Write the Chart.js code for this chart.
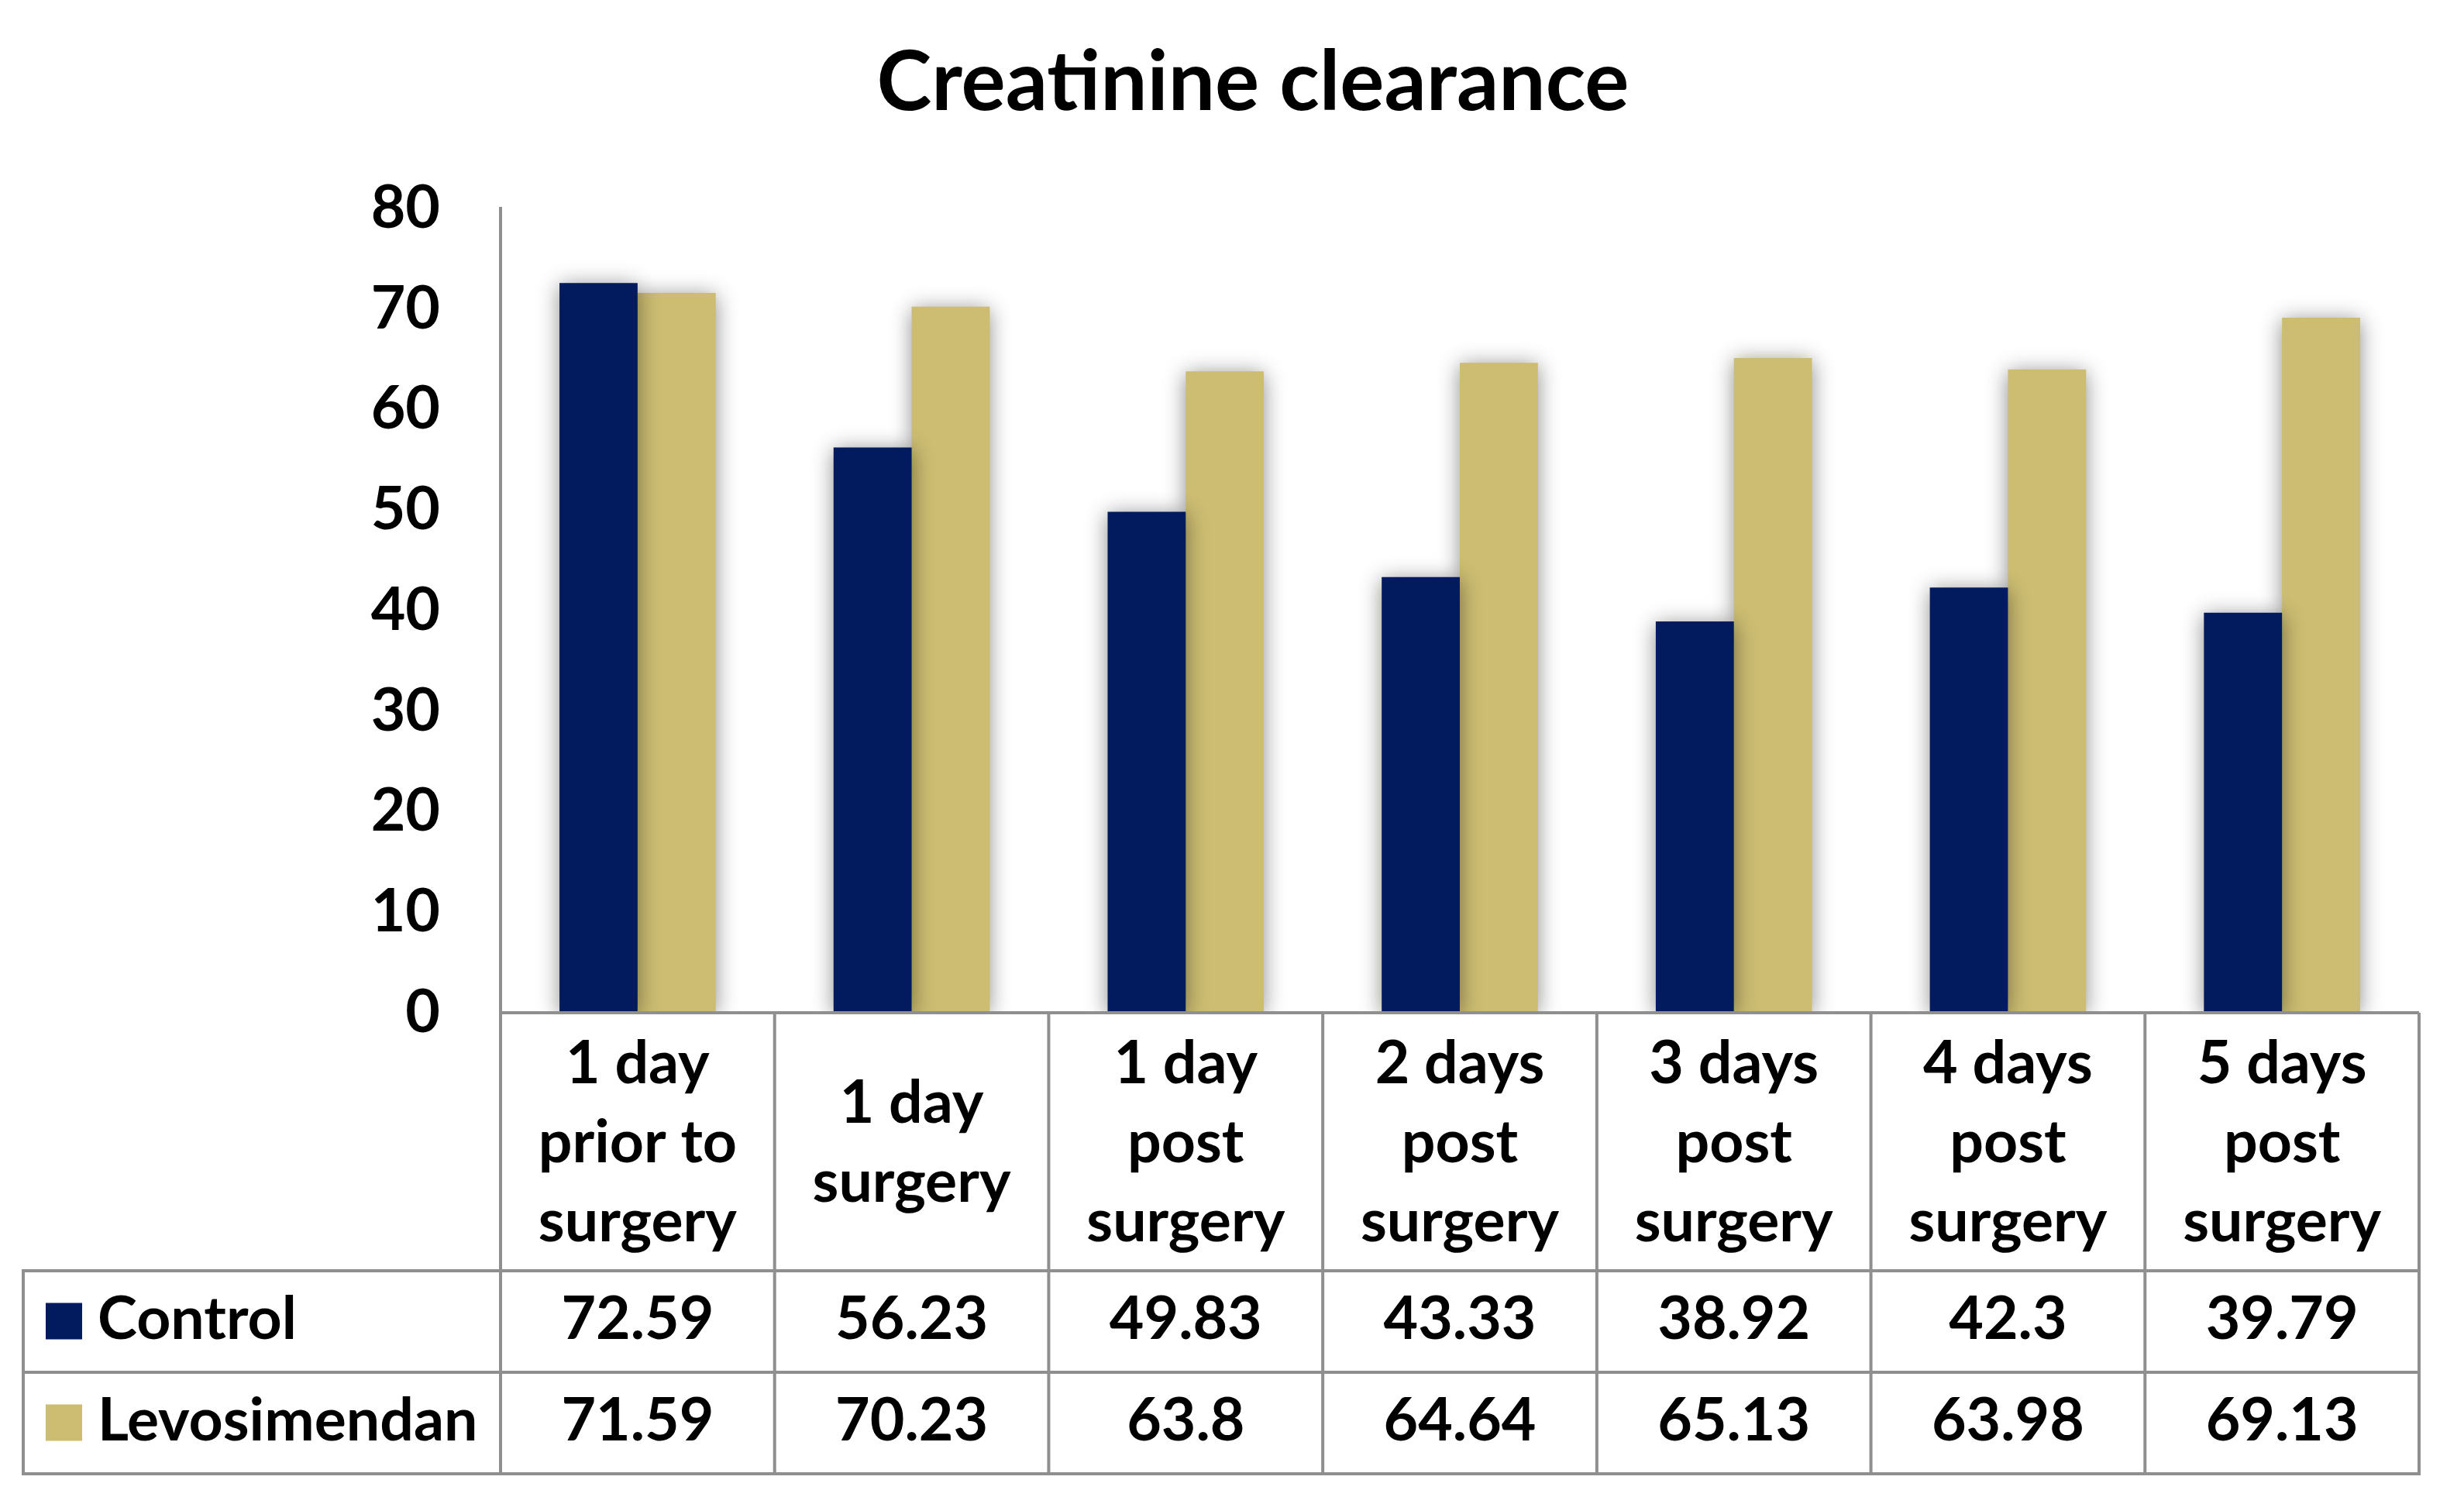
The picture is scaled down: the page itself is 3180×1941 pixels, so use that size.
<!DOCTYPE html>
<html>
<head>
<meta charset="utf-8">
<script src="https://cdn.jsdelivr.net/npm/chart.js@4/dist/chart.umd.min.js"></script>
<style>
html,body{margin:0;padding:0;background:#fff;}
canvas{display:block;}
</style>
</head>
<body>
<canvas id="c" width="3180" height="1941"></canvas>
<script>
const titleText = "Creatinine clearance";
const categories = [
  ["1 day","prior to","surgery"],
  ["1 day","surgery"],
  ["1 day","post","surgery"],
  ["2 days","post","surgery"],
  ["3 days","post","surgery"],
  ["4 days","post","surgery"],
  ["5 days","post","surgery"]
];
const seriesNames = ["Control","Levosimendan"];
const controlValues = [72.59,56.23,49.83,43.33,38.92,42.3,39.79];
const levoValues = [71.59,70.23,63.8,64.64,65.13,63.98,69.13];
const yTicks = [0,10,20,30,40,50,60,70,80];

const NAVY = "#011B5E";
const GOLD = "#CCBD72";
const GRID = "#8f8f8f";
const FONT = "Lato, 'Open Sans', sans-serif";

const shadowPlugin = {
  id: "shadow",
  beforeDatasetsDraw(chart){
    const ctx = chart.ctx;
    ctx.save();
    ctx.shadowColor = "rgba(0,0,0,0.45)";
    ctx.shadowBlur = 26;
    ctx.shadowOffsetX = 0;
    ctx.shadowOffsetY = 3;
  },
  afterDatasetsDraw(chart){
    chart.ctx.restore();
  }
};

const tablePlugin = {
  id: "tableAndTitle",
  afterDraw(chart){
    const ctx = chart.ctx;
    const a = chart.chartArea;
    const n = categories.length;
    const colW = (a.right - a.left) / n;
    const yTop = a.bottom;
    const yHead = 1640, yRow1 = 1771, yRow2 = 1902;
    const leftX = 30;
    ctx.save();
    // title
    ctx.fillStyle = "#000";
    ctx.font = "bold 107px " + FONT;
    ctx.textAlign = "center";
    ctx.textBaseline = "alphabetic";
    ctx.fillText(titleText, 1617, 142);

    // grid lines
    ctx.strokeStyle = GRID;
    ctx.lineWidth = 4;
    ctx.beginPath();
    ctx.moveTo(a.left, yTop); ctx.lineTo(a.right, yTop);
    [yHead, yRow1, yRow2].forEach(y => { ctx.moveTo(leftX - 2, y); ctx.lineTo(a.right + 2, y); });
    for (let i = 0; i <= n; i++) {
      const x = a.left + i * colW;
      ctx.moveTo(x, yTop); ctx.lineTo(x, yRow2);
    }
    ctx.moveTo(leftX, yHead); ctx.lineTo(leftX, yRow2);
    ctx.stroke();

    // header labels
    ctx.font = "bold 77px " + FONT;
    ctx.textBaseline = "middle";
    ctx.textAlign = "center";
    const lh = 102;
    const headMid = (yTop + yHead) / 2 + 2;
    categories.forEach((lines, i) => {
      const cx = a.left + (i + 0.5) * colW;
      const start = headMid - (lines.length - 1) * lh / 2;
      lines.forEach((t, k) => ctx.fillText(t, cx, start + k * lh));
    });

    // rows
    const rows = [
      {name: seriesNames[0], color: NAVY, vals: controlValues, y0: yHead, y1: yRow1},
      {name: seriesNames[1], color: GOLD, vals: levoValues, y0: yRow1, y1: yRow2}
    ];
    rows.forEach(r => {
      const mid = (r.y0 + r.y1) / 2;
      ctx.fillStyle = r.color;
      ctx.fillRect(59, mid - 24, 47, 47);
      ctx.fillStyle = "#000";
      ctx.textAlign = "left";
      ctx.fillText(r.name, 126, mid - 2);
      ctx.textAlign = "center";
      r.vals.forEach((v, i) => {
        const cx = a.left + (i + 0.5) * colW;
        ctx.fillText(String(v), cx, mid - 2);
      });
    });
    ctx.restore();
  }
};

new Chart(document.getElementById("c"), {
  type: "bar",
  data: {
    labels: categories.map(c => c.join(" ")),
    datasets: [
      {label: seriesNames[0], data: controlValues, backgroundColor: NAVY, categoryPercentage: 0.57, barPercentage: 1.0},
      {label: seriesNames[1], data: levoValues, backgroundColor: GOLD, categoryPercentage: 0.57, barPercentage: 1.0}
    ]
  },
  options: {
    responsive: false,
    devicePixelRatio: 1,
    animation: false,
    layout: {padding: {left: 0, right: 58, top: 269, bottom: 634}},
    plugins: {legend: {display: false}, title: {display: false}, tooltip: {enabled: false}},
    scales: {
      x: {display: false, offset: true},
      y: {
        min: 0, max: 80,
        afterBuildTicks(scale){ scale.ticks = yTicks.map(v => ({value: v})); },
        afterFit(scale){ scale.width = 646; },
        grid: {display: false, drawTicks: false},
        border: {display: true, color: GRID, width: 4},
        ticks: {
          padding: 78,
          color: "#000",
          font: {family: FONT, weight: "bold", size: 77}
        }
      }
    }
  },
  plugins: [shadowPlugin, tablePlugin]
});
</script>
</body>
</html>
